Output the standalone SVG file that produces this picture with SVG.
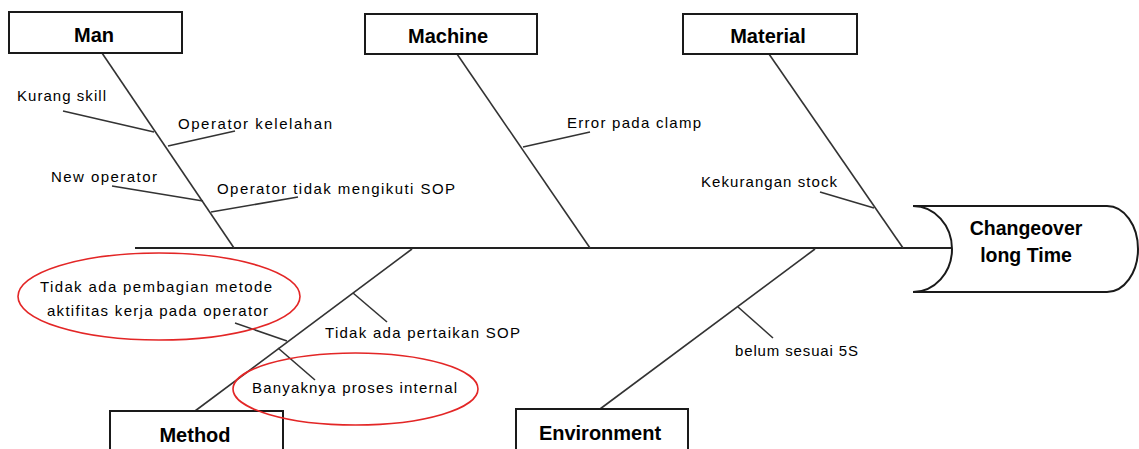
<svg xmlns="http://www.w3.org/2000/svg" width="1139" height="449" viewBox="0 0 1139 449">
<style>
.box{fill:#fff;stroke:#1a1a1a;stroke-width:2}
.hd{font-family:"Liberation Sans",Arial,sans-serif;font-weight:bold;font-size:20px;fill:#000;text-anchor:middle}
.lb{font-family:"Liberation Sans",Arial,sans-serif;font-size:15px;fill:#000}
.ln{stroke:#333;stroke-width:1.6;fill:none}
.spine{stroke:#222;stroke-width:2;fill:none}
.hl{fill:none;stroke:#e32626;stroke-width:1.6}
</style>
<rect width="1139" height="449" fill="#fff"/>
<g id="connectors">
<line class="spine" x1="135" y1="248" x2="952" y2="248"/>
<line class="ln" x1="102" y1="53" x2="234" y2="248"/>
<line class="ln" x1="457" y1="54" x2="590" y2="248"/>
<line class="ln" x1="769" y1="54" x2="903" y2="248"/>
<line class="ln" x1="412" y1="249" x2="195" y2="411"/>
<line class="ln" x1="815" y1="249" x2="600" y2="409"/>
<line class="ln" x1="63" y1="111" x2="154" y2="132"/>
<line class="ln" x1="168" y1="146" x2="235" y2="131"/>
<line class="ln" x1="112" y1="186" x2="203" y2="201"/>
<line class="ln" x1="211" y1="212" x2="298" y2="197"/>
<line class="ln" x1="523" y1="147" x2="590" y2="132"/>
<line class="ln" x1="820" y1="192" x2="874" y2="208"/>
<line class="ln" x1="353" y1="293" x2="387" y2="322"/>
<line class="ln" x1="235" y1="323" x2="287" y2="341"/>
<line class="ln" x1="278" y1="348" x2="315" y2="380"/>
<line class="ln" x1="738" y1="307" x2="773" y2="338"/>
</g>
<g id="man"><rect class="box" x="9" y="12" width="173" height="41"/><text class="hd" x="94" y="42">Man</text></g>
<g id="machine"><rect class="box" x="365" y="14" width="172" height="40"/><text class="hd" x="448" y="43">Machine</text></g>
<g id="material"><rect class="box" x="683" y="14" width="174" height="40"/><text class="hd" x="768" y="43">Material</text></g>
<g id="method"><rect class="box" x="110" y="411" width="173" height="45"/><text class="hd" x="195" y="442">Method</text></g>
<g id="environment"><rect class="box" x="516" y="409" width="172" height="47"/><text class="hd" x="600" y="440">Environment</text></g>
<g id="effect">
<path class="box" d="M913,206 L1107,206 A31 43 0 0 1 1107,292 L913,292 A39 43 0 0 0 913,206 Z"/>
<text class="hd" style="font-size:19.5px" x="1026" y="235">Changeover</text>
<text class="hd" style="font-size:19.5px" x="1026" y="262">long Time</text>
</g>
<g id="causes">
<text class="lb" x="17" y="101" textLength="89" lengthAdjust="spacing">Kurang skill</text>
<text class="lb" x="178" y="129" textLength="154" lengthAdjust="spacing">Operator kelelahan</text>
<text class="lb" x="51" y="182" textLength="106" lengthAdjust="spacing">New operator</text>
<text class="lb" x="217" y="194" textLength="238" lengthAdjust="spacing">Operator tidak mengikuti SOP</text>
<text class="lb" x="567" y="128" textLength="134" lengthAdjust="spacing">Error pada clamp</text>
<text class="lb" x="701" y="187" textLength="136" lengthAdjust="spacing">Kekurangan stock</text>
<text class="lb" x="325" y="338" textLength="195" lengthAdjust="spacing">Tidak ada pertaikan SOP</text>
<text class="lb" x="735" y="356" textLength="123" lengthAdjust="spacing">belum sesuai 5S</text>
</g>
<g id="highlight-1">
<ellipse class="hl" cx="159" cy="296.5" rx="141" ry="43.5"/>
<text class="lb" x="40" y="292" textLength="232" lengthAdjust="spacing">Tidak ada pembagian metode</text>
<text class="lb" x="47" y="316" textLength="221" lengthAdjust="spacing">aktifitas kerja pada operator</text>
</g>
<g id="highlight-2">
<ellipse class="hl" cx="355.5" cy="389" rx="122.5" ry="36"/>
<text class="lb" x="252" y="393" textLength="205" lengthAdjust="spacing">Banyaknya proses internal</text>
</g>
</svg>
